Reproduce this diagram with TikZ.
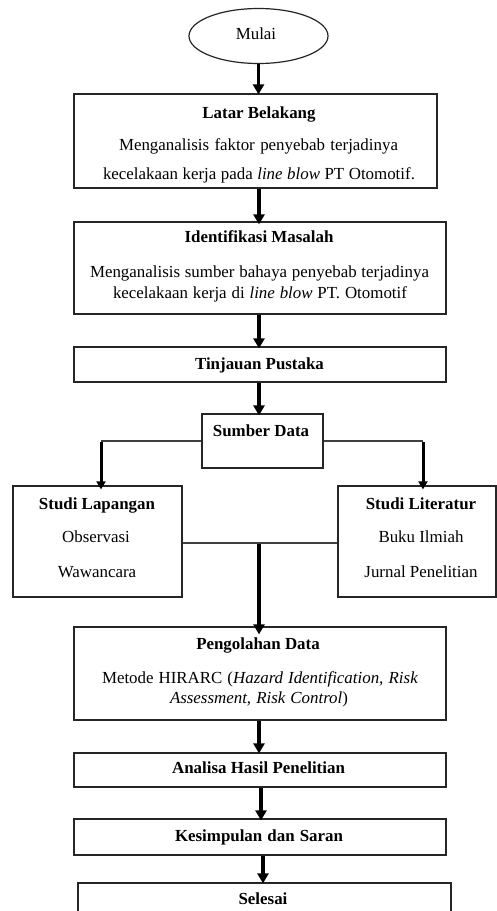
\documentclass[tikz,border=0pt]{standalone}
\usepackage{fontspec}
\setmainfont{Liberation Serif}
\usetikzlibrary{arrows.meta,calc,shapes.geometric}
\newcommand{\spread}[2]{\makebox[#1pt][s]{#2}}
\tikzset{
  box/.style={draw=black!85, line width=1.2pt, rectangle, inner sep=0pt},
  txt/.style={anchor=base, inner sep=0pt, font=\fontsize{16.9}{19}\selectfont},
  ttl/.style={txt, font=\fontsize{16.9}{19}\selectfont\bfseries},
  arr/.style={line width=3.2pt, -{Triangle[width=11pt,length=10pt]}},
  sarr/.style={line width=3pt, -{Triangle[width=9pt,length=8pt]}},
  link/.style={draw=black!75, line width=1.5pt},
}
\begin{document}
\begin{tikzpicture}[x=1pt,y=-1pt]
\useasboundingbox[fill=white] (0,0) rectangle (497,911);
\clip (0,0) rectangle (497,911);
% boxes
\node[box, ellipse, minimum width=139pt, minimum height=55pt] (mulai) at (258.5,36) {};
\node[box, minimum width=363pt, minimum height=94pt] (latar) at (255.5,141) {};
\node[box, minimum width=372pt, minimum height=92pt] (ident) at (260,268) {};
\node[box, minimum width=372pt, minimum height=35pt] (tinjau) at (260,364.5) {};
\node[box, minimum width=121pt, minimum height=54pt] (sumber) at (262.5,441) {};
\node[box, minimum width=169pt, minimum height=111pt] (lap) at (97.5,541.5) {};
\node[box, minimum width=158pt, minimum height=111pt] (lit) at (417,541.5) {};
\node[box, minimum width=372pt, minimum height=93pt] (olah) at (260,673.5) {};
\node[box, minimum width=372pt, minimum height=34pt] (analisa) at (260,770) {};
\node[box, minimum width=372pt, minimum height=36pt] (kesim) at (260,837) {};
\node[box, minimum width=373pt, minimum height=47pt] (selesai) at (264.5,906.5) {};
% texts
\node[txt] (tmulai) at (256,39) {Mulai};
\node[ttl] (tlatar) at (259,118) {Latar Belakang};
\node[txt] (tlatar1) at (258.5,150) {\spread{279}{Menganalisis faktor penyebab terjadinya}};
\node[txt] (tlatar2) at (259,179) {\spread{312}{kecelakaan kerja pada \textit{line blow} PT Otomotif.}};
\node[ttl] (tident) at (259,242) {Identifikasi Masalah};
\node[txt] (tident1) at (259.5,277) {\spread{339}{Menganalisis sumber bahaya penyebab terjadinya}};
\node[txt] (tident2) at (260,298) {\spread{294}{kecelakaan kerja di \textit{line blow} PT. Otomotif}};
\node[ttl] (ttinjau) at (259.5,369) {Tinjauan Pustaka};
\node[ttl] (tsumber) at (261,436) {Sumber Data};
\node[ttl] (tlap) at (97,509) {Studi Lapangan};
\node[txt] (tlap1) at (96,542) {Observasi};
\node[txt] (tlap2) at (97,577) {Wawancara};
\node[ttl] (tlit) at (421,509) {Studi Literatur};
\node[txt] (tlit1) at (421,542) {Buku Ilmiah};
\node[txt] (tlit2) at (421,577) {Jurnal Penelitian};
\node[ttl] (tolah) at (258,649) {Pengolahan Data};
\node[txt] (tolah1) at (260,683) {\spread{316}{Metode HIRARC (\textit{Hazard Identification, Risk}}};
\node[txt] (tolah2) at (259,703) {\spread{178}{\textit{Assessment, Risk Control})}};
\node[ttl] (tanalisa) at (258.5,773) {Analisa Hasil Penelitian};
\node[ttl] (tkesim) at (259,841) {\spread{168}{Kesimpulan dan Saran}};
\node[ttl] (tselesai) at (263,904) {Selesai};
% connectors
\coordinate (c1) at (259,0);
\coordinate (c2) at (261,0);
\coordinate (c3) at (263,0);
\draw[arr] (mulai.south) -- ([yshift=-1pt]latar.north -| mulai);
\draw[arr] (latar.south -| c1) -- ([yshift=-3pt]ident.north -| c1);
\draw[arr] (ident.south -| c1) -- ([yshift=-2pt]tinjau.north -| c1);
\draw[arr] (tinjau.south -| c1) -- ([yshift=-2pt]sumber.north -| c1);
\coordinate (lt) at (101,441);
\coordinate (rt) at (423,441);
\draw[link] (sumber.west) -- (lt);
\draw[link] (sumber.east) -- (rt);
\draw[sarr] ([yshift=-0.8pt]lt) -- ([yshift=-4pt]lap.north -| lt);
\draw[sarr] ([yshift=-0.8pt]rt) -- ([yshift=-4pt]lit.north -| rt);
\coordinate (mid) at (259,543);
\draw[link] (lap.east |- mid) -- (lit.west |- mid);
\draw[arr] ([yshift=-0.8pt]mid) -- ([yshift=-8pt]olah.north -| mid);
\draw[arr] (olah.south -| c1) -- ([yshift=-1pt]analisa.north -| c1);
\draw[arr] (analisa.south -| c2) -- ([yshift=-2pt]kesim.north -| c2);
\draw[arr] (kesim.south -| c3) -- ([yshift=-1pt]selesai.north -| c3);
\end{tikzpicture}
\end{document}
